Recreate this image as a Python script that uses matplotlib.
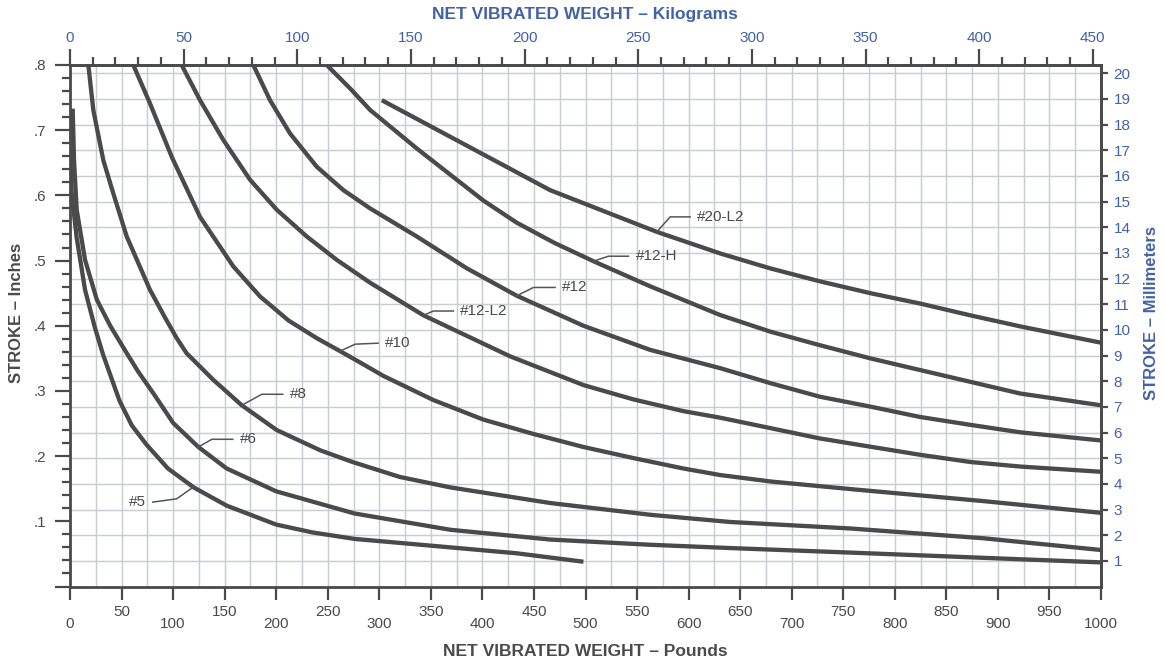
import numpy as np
import matplotlib
matplotlib.use("Agg")
import matplotlib.pyplot as plt

plt.rcParams["font.family"] = ["Liberation Sans", "DejaVu Sans"]

# Stroke (inches) against net vibrated weight (pounds)
curves = {
    "#5": (
        [0, 1.6, 6.5, 14.6, 24, 32, 48, 60, 74, 95, 120, 152, 200, 235, 276, 369, 433, 498],
        [0.671, 0.603, 0.535, 0.455, 0.398, 0.356, 0.285, 0.247, 0.218, 0.181, 0.152, 0.124, 0.095, 0.083, 0.073, 0.060, 0.051, 0.038],
    ),
    "#6": (
        [2.6, 3.9, 6.5, 14.6, 26, 39, 55, 66, 81, 100, 124.5, 152, 200, 276, 369, 466, 563, 640, 757, 886, 1000],
        [0.733, 0.654, 0.578, 0.501, 0.440, 0.400, 0.358, 0.330, 0.296, 0.251, 0.214, 0.181, 0.146, 0.112, 0.087, 0.072, 0.064, 0.059, 0.052, 0.044, 0.037],
    ),
    "#8": (
        [17.8, 22.6, 32.3, 42, 55, 77.6, 92, 103.5, 113, 139, 166.6, 200.5, 242.6, 274, 320, 369, 466, 563, 640, 757, 886, 1000],
        [0.80, 0.731, 0.654, 0.603, 0.537, 0.455, 0.413, 0.381, 0.358, 0.317, 0.278, 0.240, 0.209, 0.191, 0.168, 0.152, 0.128, 0.110, 0.099, 0.089, 0.074, 0.056],
    ),
    "#10": (
        [61.4, 77.6, 98.7, 126.1, 158.4, 184.3, 212, 239.3, 262, 281, 304, 352.5, 401, 449.5, 498, 546.5, 595, 630.5, 680, 760, 886, 1000],
        [0.80, 0.741, 0.659, 0.567, 0.491, 0.445, 0.408, 0.381, 0.361, 0.344, 0.323, 0.286, 0.256, 0.234, 0.214, 0.197, 0.181, 0.171, 0.161, 0.149, 0.131, 0.113],
    ),
    "#12-L2": (
        [108.3, 126.1, 148.7, 174.6, 200.5, 229.6, 258.8, 291.1, 342.8, 427, 498, 546.5, 595, 630.5, 679.2, 727.7, 776.2, 824.7, 873.2, 921.7, 1000],
        [0.80, 0.746, 0.685, 0.624, 0.578, 0.537, 0.501, 0.466, 0.416, 0.353, 0.309, 0.287, 0.269, 0.259, 0.243, 0.227, 0.2145, 0.202, 0.191, 0.184, 0.176],
    ),
    "#12": (
        [177.8, 194, 213.4, 239.3, 265.2, 291.1, 336.3, 385, 433.4, 498, 562.7, 630.5, 679.2, 727.7, 776.2, 824.7, 873.2, 921.7, 1000],
        [0.80, 0.746, 0.695, 0.644, 0.608, 0.580, 0.537, 0.488, 0.446, 0.400, 0.363, 0.335, 0.312, 0.291, 0.276, 0.260, 0.248, 0.2365, 0.224],
    ),
    "#12-H": (
        [249, 271.7, 291.1, 336.3, 401, 433.4, 470, 507.7, 562, 630.5, 679.2, 727.7, 776.2, 824.7, 873.2, 921.7, 1000],
        [0.80, 0.764, 0.731, 0.672, 0.592, 0.558, 0.527, 0.499, 0.461, 0.4165, 0.391, 0.370, 0.350, 0.332, 0.314, 0.296, 0.278],
    ),
    "#20-L2": (
        [302.4, 368.7, 465.7, 569.2, 630.5, 679.2, 727.7, 776.2, 824.7, 873.2, 921.7, 1000],
        [0.746, 0.690, 0.608, 0.544, 0.511, 0.488, 0.468, 0.450, 0.434, 0.416, 0.399, 0.374],
    ),
}

# label: weight on the curve where the leader starts, knee and end offsets (px), text side
labels = [
    ("#5", 119.6, (-16.6, -11.7), (-40.6, -15.0), "right"),
    ("#6", 124.5, (13.4, 7.7), (34.4, 7.7), "left"),
    ("#8", 166.6, (20.0, 11.0), (41.0, 11.0), "left"),
    ("#10", 262.0, (15.0, 7.0), (38.0, 8.0), "left"),
    ("#12-L2", 342.8, (10.0, 4.3), (30.0, 4.3), "left"),
    ("#12", 433.4, (16.6, 8.3), (38.3, 8.3), "left"),
    ("#12-H", 507.7, (15.0, 5.0), (35.0, 5.0), "left"),
    ("#20-L2", 569.2, (13.3, 15.0), (33.3, 15.0), "left"),
]

LB_TO_KG = 0.45359237
MM_PER_IN = 25.4

dark = "#4a4a4a"
blue = "#4262a8"
grid_c = "#c9ccd2"

W, H = 1165, 662
fig = plt.figure(figsize=(W / 100, H / 100), dpi=100)
ax = fig.add_axes([70 / W, 1 - 586.5 / H, 1031 / W, 521.5 / H])
ax.set_xlim(0, 1000)
ax.set_ylim(0, 0.8)

# grid: every 25 lb and every millimetre
for x in np.arange(25, 1000, 25):
    ax.axvline(x, color=grid_c, lw=1.05, zorder=1)
for mm in range(1, 21):
    ax.axhline(mm / MM_PER_IN, color=grid_c, lw=1.05, zorder=1)

for name, (xs, ys) in curves.items():
    ax.plot(xs, ys, color=dark, lw=3.1, solid_capstyle="butt", solid_joinstyle="round", zorder=3)

# leaders and labels
px_x = ax.bbox.width / 1000.0
px_y = ax.bbox.height / 0.8
for name, xw, knee, end, side in labels:
    xs, ys = curves[name]
    y0 = np.interp(xw, xs, ys)
    kx, ky = xw + knee[0] / px_x, y0 + knee[1] / px_y
    ex, ey = xw + end[0] / px_x, y0 + end[1] / px_y
    ax.plot([xw, kx, ex], [y0, ky, ey], color="#555555", lw=1.1, zorder=4)
    gap = 7 / px_x
    tx = ex + gap if side == "left" else ex - gap
    ax.text(tx, ey, name, ha=side, va="center", fontsize=11, color=dark, zorder=5)

for s in ax.spines.values():
    s.set_color(dark)
    s.set_linewidth(2.0)
    s.set_zorder(6)

# bottom axis: pounds, labels staggered
ax.set_xticks(np.arange(0, 1001, 50))
ax.set_xticklabels([str(v) for v in range(0, 1001, 50)])
ax.tick_params(axis="x", direction="out", length=9.5, width=1.6, color=dark,
               labelsize=11, labelcolor=dark)
for tick, v in zip(ax.xaxis.get_major_ticks(), range(0, 1001, 50)):
    tick.set_pad(12.5 if v % 100 == 0 else 4.0)

# left axis: inches
ax.set_yticks(np.arange(0, 0.81, 0.1))
ax.set_yticklabels([""] + [f".{i}" for i in range(1, 9)])
ax.set_yticks(np.arange(0, 0.8, 0.02), minor=True)
ax.tick_params(axis="y", which="major", direction="out", length=11, width=1.6, color=dark,
               labelsize=11, labelcolor=dark, pad=6)
ax.tick_params(axis="y", which="minor", direction="out", length=6, width=1.6, color=dark)

# top axis: kilograms
top = ax.secondary_xaxis("top", functions=(lambda x: x * LB_TO_KG, lambda k: k / LB_TO_KG))
top.set_xticks(np.arange(0, 451, 50))
top.set_xticks(np.arange(0, 451, 10), minor=True)
top.tick_params(axis="x", which="major", direction="out", length=11.5, width=1.6, color=dark,
                labelsize=11, labelcolor=blue, pad=3)
top.tick_params(axis="x", which="minor", direction="out", length=6, width=1.6, color=dark)
top.spines["top"].set_color(dark)
top.spines["top"].set_linewidth(2.0)

# right axis: millimetres
right = ax.secondary_yaxis("right", functions=(lambda y: y * MM_PER_IN, lambda m: m / MM_PER_IN))
right.set_yticks(np.arange(1, 21, 1))
right.tick_params(axis="y", direction="out", length=5, width=1.6, color=dark,
                  labelsize=11, labelcolor=blue, pad=4)
right.spines["right"].set_color(dark)
right.spines["right"].set_linewidth(2.0)

fig.text(585 / W, 1 - 15 / H, "NET VIBRATED WEIGHT – Kilograms", ha="center", va="center",
         fontsize=12.5, fontweight="bold", color=blue)
fig.text(585 / W, 1 - 651 / H, "NET VIBRATED WEIGHT – Pounds", ha="center", va="center",
         fontsize=12.5, fontweight="bold", color=dark)
fig.text(17 / W, 1 - 313 / H, "STROKE – Inches", ha="center", va="center", rotation=90,
         fontsize=12, fontweight="bold", color=dark)
fig.text(1151 / W, 1 - 313 / H, "STROKE – Millimeters", ha="center", va="center", rotation=90,
         fontsize=12, fontweight="bold", color=blue)

fig.savefig("out.png", dpi=100, facecolor="white")
